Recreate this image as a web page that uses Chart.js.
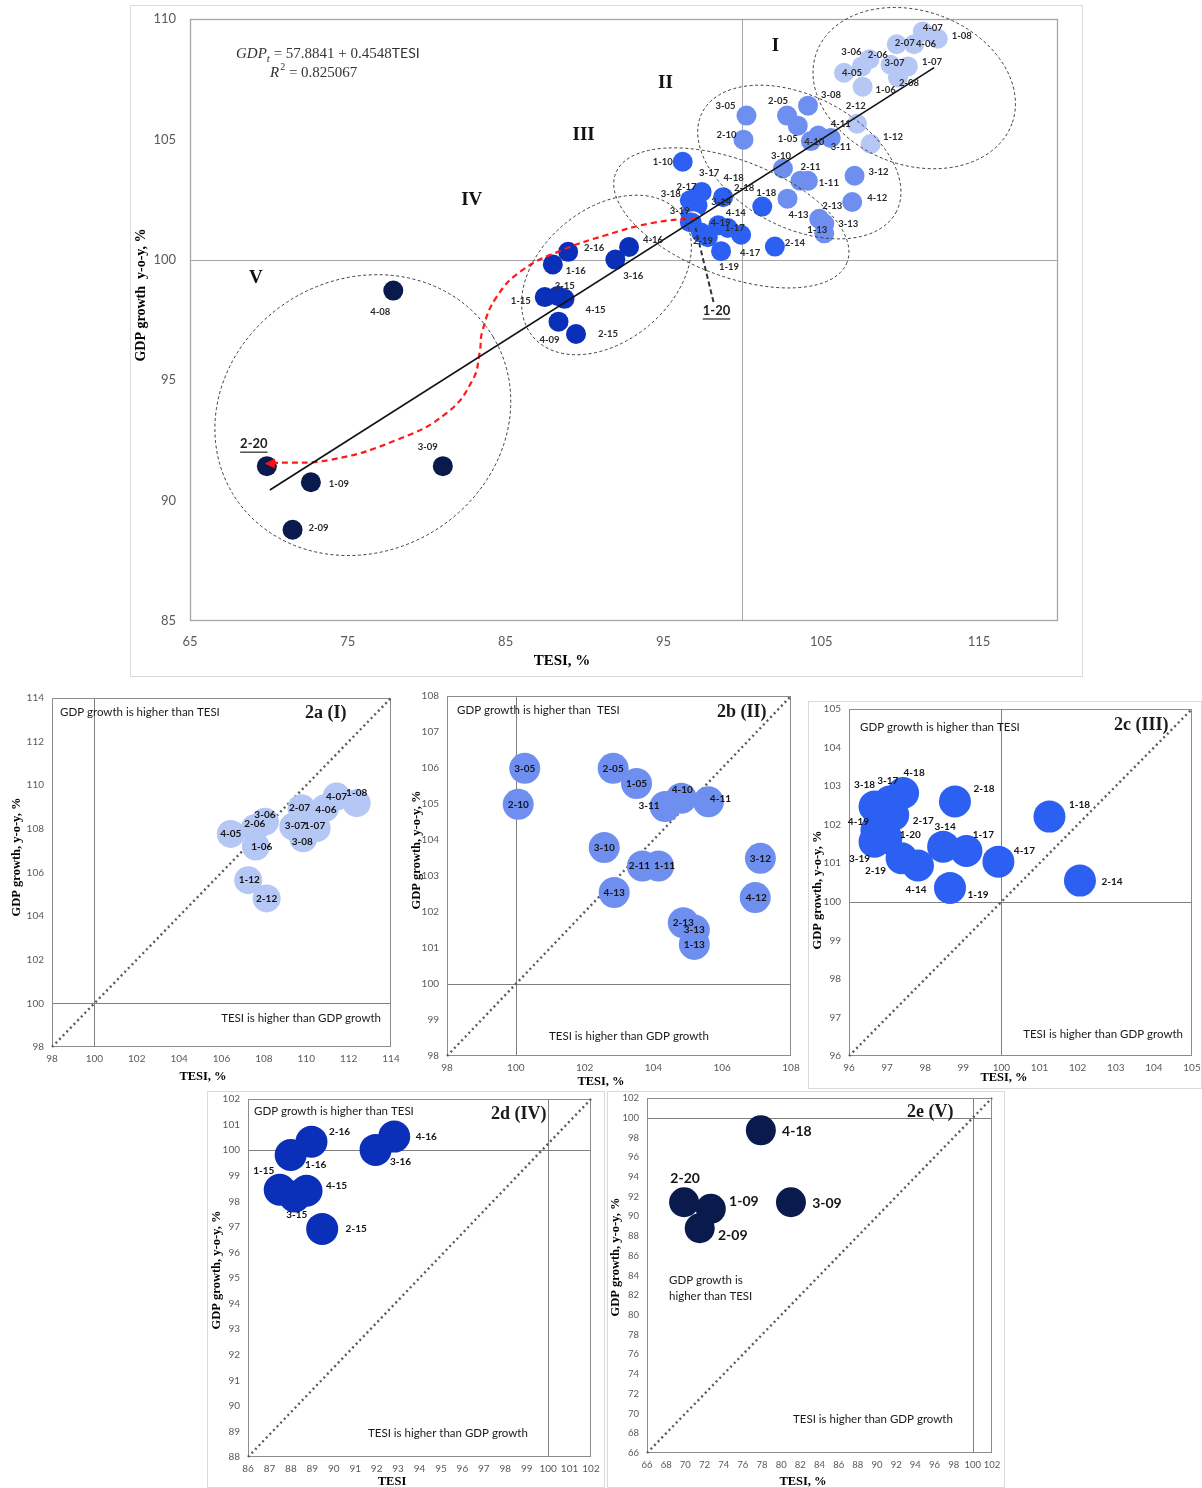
<!DOCTYPE html>
<html><head><meta charset="utf-8">
<script src="https://cdn.jsdelivr.net/npm/chart.js@4/dist/chart.umd.min.js"></script>
<style>
html,body{margin:0;padding:0;background:#fff;}
body{width:1202px;height:1488px;position:relative;overflow:hidden;}
.frame{position:absolute;border:1px solid #dadada;box-sizing:border-box;}
canvas{position:absolute;}
</style></head><body>
<div class="frame" style="left:130px;top:5px;width:953px;height:672px"></div>
<div class="frame" style="left:808px;top:701px;width:394px;height:388px"></div>
<div class="frame" style="left:207px;top:1091px;width:398px;height:397px"></div>
<div class="frame" style="left:607px;top:1091px;width:398px;height:397px"></div>
<script>
// ================= DATA =================
// Main chart (TESI, %  vs  GDP growth y-o-y, %)
const mainLabels = ['4-05','2-06','3-06','1-06','1-12','2-12','2-07','3-07','1-07','2-08','4-06','4-07','1-08',
  '3-05','2-10','2-05','1-05','3-08','3-11','4-10','4-11','3-10','2-11','1-11','4-13','3-12','4-12','2-13','3-13','1-13',
  '1-10','3-18','3-17','4-18','2-17','4-19','1-20','3-19','2-19','4-14','2-18','1-18','3-14','1-17','4-17','1-19','2-14',
  '1-15','3-15','4-15','4-09','2-15','1-16','2-16','3-16','4-16',
  '4-08','2-20','1-09','2-09','3-09'];
const mainTesi = [106.44,107.57,108.05,107.62,107.26,108.13,109.78,109.39,110.49,109.86,110.88,111.43,112.38,
  100.26,100.07,102.83,103.51,104.16,104.34,104.81,105.60,102.57,103.68,104.15,102.86,107.11,106.96,104.87,105.19,105.19,
  96.22,96.67,97.07,97.42,97.16,96.72,96.84,96.67,97.38,97.81,98.78,101.26,98.47,99.08,99.92,98.65,102.06,
  87.48,88.30,88.73,88.35,89.46,87.99,88.96,91.95,92.82,
  77.88,69.87,72.66,71.50,81.02];
const mainGdp = [107.77,108.03,108.33,107.19,105.65,104.81,108.95,108.10,108.03,107.57,108.95,109.48,109.18,
  105.99,104.99,105.99,105.57,106.40,104.93,105.16,105.06,103.79,103.28,103.28,102.54,103.49,102.40,101.70,101.50,101.10,
  104.07,102.47,102.60,102.82,102.25,101.86,101.57,101.56,101.13,100.94,102.60,102.21,101.43,101.32,101.04,100.36,100.55,
  98.45,98.50,98.38,97.43,96.92,99.81,100.33,100.01,100.53,
  98.72,91.43,90.76,88.79,91.43];
const mainGroup = ['I','I','I','I','I','I','I','I','I','I','I','I','I',
  'II','II','II','II','II','II','II','II','II','II','II','II','II','II','II','II','II',
  'III','III','III','III','III','III','III','III','III','III','III','III','III','III','III','III','III',
  'IV','IV','IV','IV','IV','IV','IV','IV','IV',
  'V','V','V','V','V'];
const trendTesi = [70.06, 112.15];
const trendGdp = [90.44, 107.98];
const pathTesi = [97.09,94.30,91.39,88.61,86.08,84.43,83.54,83.35,82.91,81.27,78.10,73.86,70.25];
const pathGdp  = [101.74,101.53,101.03,100.41,99.58,98.46,97.08,96.13,95.01,93.64,92.52,91.69,91.56];
const mainXTicks = [65,75,85,95,105,115];
const mainYTicks = [85,90,95,100,105,110];

// 2a (I)
const aLabels = ['4-05','2-06','3-06','1-06','1-12','2-12','2-07','3-07','1-07','3-08','4-06','4-07','1-08'];
const aTesi = [106.44,107.57,108.05,107.62,107.26,108.13,109.78,109.39,110.49,109.86,110.88,111.43,112.38];
const aGdp  = [107.77,108.03,108.33,107.19,105.65,104.81,108.95,108.10,108.03,107.57,108.95,109.48,109.18];
const aXTicks = [98,100,102,104,106,108,110,112,114];
const aYTicks = [98,100,102,104,106,108,110,112,114];
// 2b (II)
const bLabels = ['3-05','2-10','2-05','1-05','3-11','4-10','4-11','3-10','2-11','1-11','4-13','3-12','4-12','2-13','3-13','1-13'];
const bTesi = [100.26,100.07,102.83,103.51,104.34,104.81,105.60,102.57,103.68,104.15,102.86,107.11,106.96,104.87,105.19,105.19];
const bGdp  = [105.99,104.99,105.99,105.57,104.93,105.16,105.06,103.79,103.28,103.28,102.54,103.49,102.40,101.70,101.50,101.10];
const bXTicks = [98,100,102,104,106,108];
const bYTicks = [98,99,100,101,102,103,104,105,106,107,108];
// 2c (III)
const cLabels = ['3-18','3-17','4-18','2-17','4-19','1-20','3-19','2-19','4-14','2-18','1-18','3-14','1-17','4-17','1-19','2-14'];
const cTesi = [96.67,97.07,97.42,97.16,96.72,96.98,96.67,97.38,97.81,98.78,101.26,98.47,99.08,99.92,98.65,102.06];
const cGdp  = [102.47,102.60,102.82,102.25,101.86,101.65,101.56,101.13,100.94,102.60,102.21,101.43,101.32,101.04,100.36,100.55];
const cXTicks = [96,97,98,99,100,101,102,103,104,105];
const cYTicks = [96,97,98,99,100,101,102,103,104,105];
// 2d (IV)
const dLabels = ['2-16','1-16','4-16','3-16','1-15','3-15','4-15','2-15'];
const dTesi = [88.96,87.99,92.82,91.95,87.48,88.18,88.73,89.46];
const dGdp  = [100.33,99.81,100.53,100.01,98.45,98.19,98.41,96.92];
const dXTicks = [86,87,88,89,90,91,92,93,94,95,96,97,98,99,100,101,102];
const dYTicks = [88,89,90,91,92,93,94,95,96,97,98,99,100,101,102];
// 2e (V)
const eLabels = ['4-18','2-20','1-09','2-09','3-09'];
const eTesi = [77.88,69.87,72.66,71.50,81.02];
const eGdp  = [98.72,91.43,90.76,88.79,91.43];
const eXTicks = [66,68,70,72,74,76,78,80,82,84,86,88,90,92,94,96,98,100,102];
const eYTicks = [66,68,70,72,74,76,78,80,82,84,86,88,90,92,94,96,98,100,102];

// ================= STYLE / LAYOUT =================
const groupColor = {I:'#b5c7f4', II:'#6f8ff0', III:'#2c60f2', IV:'#0a2fb8', V:'#0b1a4c'};
const mainOffsets = {'4-05':[8,0],'2-06':[16,-12],'3-06':[-18,-7],'1-06':[23,3],'1-12':[36,13],'2-12':[-15,-38],'2-07':[8,-1],'3-07':[4,-2],'1-07':[24,-5],'2-08':[11,5],'4-06':[12,0],'4-07':[10,-4],'1-08':[24,-3],
 '3-05':[-21,-10],'2-10':[-17,-5],'2-05':[-9,-15],'1-05':[-10,13],'3-08':[23,-11],'3-11':[30,6],'4-10':[-4,6],'4-11':[10,-14],'3-10':[-2,-13],'2-11':[10,-14],'1-11':[21,2],'4-13':[11,16],'3-12':[24,-4],'4-12':[25,-4],'2-13':[13,-13],'3-13':[24,0],'1-13':[-7,-3],
 '1-10':[-20,0],'3-18':[-19,-6],'3-17':[13,-24],'4-18':[32,-14],'2-17':[-11,-19],'4-19':[30,8],'3-19':[-10,-11],'2-19':[2,8],'4-14':[28,-24],'2-18':[21,-9],'1-18':[4,-14],'3-14':[3,-23],'1-17':[7,0],'4-17':[9,18],'1-19':[8,16],'2-14':[20,-4],
 '1-15':[-24,4],'3-15':[7,-10],'4-15':[31,11],'4-09':[-9,18],'2-15':[32,0],'1-16':[23,7],'2-16':[26,-4],'3-16':[18,16],'4-16':[24,-7],
 '4-08':[-13,21],'1-09':[28,2],'2-09':[26,-2],'3-09':[-15,-19]};
const mainSpecial = {'1-20':{off:[24,89],lead:[[21,80],[3,6]]}, '2-20':{off:[-13,-22]}};
const mainEllipses = [
 {cx:110.89, cy:107.13, a:104, b:77, rot:20},
 {cx:103.61, cy:104.06, a:109, b:66, rot:27},
 {cx:99.30, cy:101.74, a:124, b:58, rot:21},
 {cx:91.39, cy:99.37, a:96, b:66, rot:-40},
 {cx:75.95, cy:93.55, a:152, b:136, rot:-31}];
const romans = [{t:'I',x:102.09,y:108.88},{t:'II',x:95.13,y:107.34},{t:'III',x:89.94,y:105.18},{t:'IV',x:82.85,y:102.48},{t:'V',x:69.18,y:99.24}];

const aOff = {'4-05':[0,0],'2-06':[0,-4],'3-06':[0,-7],'1-06':[6,0],'1-12':[1,0],'2-12':[0,0],'2-07':[-2,0],'3-07':[2,-1],'1-07':[-2,-2],'3-08':[-1,4],'4-06':[1,2],'4-07':[0,0],'1-08':[0,-10]};
const bOff = {'3-11':[-16,-1],'4-10':[1,-8],'4-11':[12,-3],'2-11':[-3,0],'1-11':[6,0],'4-12':[1,0]};
const cOff = {'3-18':[-10,-22],'3-17':[-2,-21],'4-18':[11,-20],'2-18':[29,-13],'1-18':[30,-12],'4-19':[-18,-8],'2-17':[30,6],'3-14':[2,-20],'1-17':[17,-16],'1-20':[24,-3],'4-17':[26,-11],'3-19':[-15,17],'2-19':[-26,13],'4-14':[-2,24],'1-19':[28,7],'2-14':[32,1]};
const dOff = {'2-16':[28,-10],'1-16':[25,10],'4-16':[32,0],'3-16':[25,12],'1-15':[-16,-19],'3-15':[2,18],'4-15':[30,-5],'2-15':[34,0]};
const eOff = {'4-18':[36,1],'2-20':[1,-24],'1-09':[33,-7],'2-09':[33,7],'3-09':[36,1]};

Chart.defaults.animation = false;
Chart.defaults.responsive = false;
Chart.defaults.events = [];
Chart.defaults.plugins.legend.display = false;
Chart.defaults.plugins.tooltip.enabled = false;
Chart.defaults.font.family = 'Lato';

const SERIF = '"Liberation Serif", "DejaVu Serif", serif';

function addCanvas(id, b){
  const c = document.createElement('canvas');
  c.id = id; c.width = b.w; c.height = b.h;
  c.style.left = b.l+'px'; c.style.top = b.t+'px'; c.style.width = b.w+'px'; c.style.height = b.h+'px';
  document.body.appendChild(c); return c;
}
function axisOpt(min,max,ticks,isX,size,pad,fs){
  return {type:'linear',min,max,position:isX?'bottom':'left',
    afterBuildTicks:s=>{ s.ticks = ticks.map(v=>({value:v})); },
    afterFit:s=>{
      if(isX) s.height = size; else s.width = size;
      s.paddingTop = 0; s.paddingBottom = 0; s.paddingLeft = 0; s.paddingRight = 0;
    },
    grid:{display:false,drawTicks:false}, border:{display:false},
    ticks:{autoSkip:false,maxRotation:0,minRotation:0,padding:pad,color:'#595959',font:{family:'Lato',size:fs}},
    title:{display:false}};
}

const decoPlugin = {
  id:'deco',
  beforeDatasetsDraw(chart,args,o){
    const {ctx, chartArea:a} = chart; const x = chart.scales.x, y = chart.scales.y;
    ctx.save();
    ctx.lineWidth = 1;
    ctx.strokeStyle = o.lineColor;
    const vx = Math.round(x.getPixelForValue(100))+0.5, hy = Math.round(y.getPixelForValue(100))+0.5;
    ctx.beginPath(); ctx.moveTo(vx,a.top); ctx.lineTo(vx,a.bottom); ctx.moveTo(a.left,hy); ctx.lineTo(a.right,hy); ctx.stroke();
    ctx.strokeStyle = o.frameColor; ctx.lineWidth = o.frameWidth || 1;
    ctx.strokeRect(Math.round(a.left)+0.5, Math.round(a.top)+0.5, Math.round(a.width)-1, Math.round(a.height)-1);
    if (o.diag){
      ctx.setLineDash([2,3.2]); ctx.lineWidth = 2.4; ctx.strokeStyle = '#5a5a5a';
      ctx.beginPath(); ctx.moveTo(a.left,a.bottom); ctx.lineTo(a.right,a.top); ctx.stroke();
    }
    ctx.restore();
  },
  afterDraw(chart,args,o){
    const {ctx, chartArea:a} = chart;
    ctx.save();
    (o.notes||[]).forEach(n=>{
      ctx.font = n.font; ctx.fillStyle = n.color || '#1a1a1a';
      ctx.textAlign = n.align || 'left'; ctx.textBaseline = 'middle';
      ctx.fillText(n.t, a.left+n.x, a.top+n.y);
    });
    (o.titles||[]).forEach(n=>{
      ctx.save();
      ctx.font = n.font; ctx.fillStyle = '#000'; ctx.textAlign = 'center'; ctx.textBaseline = 'middle';
      ctx.translate(n.x, n.y); if (n.rot) ctx.rotate(-Math.PI/2);
      ctx.fillText(n.t, 0, 0);
      ctx.restore();
    });
    ctx.restore();
  }
};

const labelPlugin = {
  id:'ptLabels',
  afterDatasetsDraw(chart,args,o){
    if (!o.labels) return;
    const {ctx} = chart; const meta = chart.getDatasetMeta(o.dataset);
    ctx.save();
    ctx.font = o.font; ctx.fillStyle = o.color; ctx.textAlign = 'center'; ctx.textBaseline = 'middle';
    o.labels.forEach((t,i)=>{
      if (o.skip && o.skip[t]) return;
      const el = meta.data[i]; const off = o.offsets[t] || [0,0];
      ctx.fillText(t, el.x+off[0], el.y+off[1]);
    });
    ctx.restore();
  }
};

const mainExtra = {
  id:'mainExtra',
  afterDatasetsDraw(chart){
    const {ctx, chartArea:a} = chart; const x = chart.scales.x, y = chart.scales.y;
    ctx.save();
    ctx.strokeStyle = '#3a3a3a'; ctx.lineWidth = 1; ctx.setLineDash([3,2.5]);
    mainEllipses.forEach(e=>{
      ctx.beginPath();
      ctx.ellipse(x.getPixelForValue(e.cx), y.getPixelForValue(e.cy), e.a, e.b, e.rot*Math.PI/180, 0, 2*Math.PI);
      ctx.stroke();
    });
    ctx.setLineDash([]);
    const n = pathTesi.length-1;
    const ex = x.getPixelForValue(pathTesi[n]), ey = y.getPixelForValue(pathGdp[n]);
    ctx.fillStyle = '#ff1010';
    ctx.beginPath(); ctx.moveTo(ex-8, ey+0.5); ctx.lineTo(ex+2, ey-4.5); ctx.lineTo(ex+2, ey+5.5); ctx.closePath(); ctx.fill();
    ctx.fillStyle = '#111'; ctx.font = 'bold 19px '+SERIF; ctx.textAlign = 'center'; ctx.textBaseline = 'middle';
    romans.forEach(r=> ctx.fillText(r.t, x.getPixelForValue(r.x), y.getPixelForValue(r.y)));
    ctx.textAlign = 'left'; ctx.textBaseline = 'alphabetic'; ctx.fillStyle = '#333';
    let px = a.left+46, py = a.top+39;
    ctx.font = 'italic 15px '+SERIF; ctx.fillText('GDP', px, py); px += ctx.measureText('GDP').width;
    ctx.font = 'italic 11px '+SERIF; ctx.fillText('t', px, py+4); px += ctx.measureText('t').width;
    ctx.font = '15px '+SERIF; ctx.fillText(' = 57.8841 + 0.4548', px, py); px += ctx.measureText(' = 57.8841 + 0.4548').width;
    ctx.font = '14px Lato'; ctx.fillText('TESI', px, py);
    px = a.left+80; py = a.top+58;
    ctx.font = 'italic 15px '+SERIF; ctx.fillText('R', px, py); px += ctx.measureText('R').width+1;
    ctx.font = '10px '+SERIF; ctx.fillText('2', px, py-7); px += ctx.measureText('2').width;
    ctx.font = '15px '+SERIF; ctx.fillText(' = 0.825067', px, py);
    const meta = chart.getDatasetMeta(2);
    ctx.font = 'bold 13px Lato'; ctx.fillStyle = '#222'; ctx.textAlign = 'center'; ctx.textBaseline = 'middle';
    Object.keys(mainSpecial).forEach(k=>{
      const i = mainLabels.indexOf(k); const el = meta.data[i]; const s = mainSpecial[k];
      const lx = el.x+s.off[0], ly = el.y+s.off[1];
      ctx.fillText(k, lx, ly);
      const w = ctx.measureText(k).width;
      ctx.strokeStyle = '#222'; ctx.lineWidth = 1.2;
      ctx.beginPath(); ctx.moveTo(lx-w/2, ly+8); ctx.lineTo(lx+w/2, ly+8); ctx.stroke();
      if (s.lead){
        ctx.setLineDash([5,3]); ctx.lineWidth = 2; ctx.strokeStyle = '#333';
        ctx.beginPath(); ctx.moveTo(el.x+s.lead[0][0], el.y+s.lead[0][1]); ctx.lineTo(el.x+s.lead[1][0], el.y+s.lead[1][1]); ctx.stroke();
        ctx.setLineDash([]);
      }
    });
    ctx.restore();
  }
};

// ================= MAIN CHART =================
(function(){
  const box = {l:130,t:5,w:952,h:671};
  const cv = addCanvas('cMain', box);
  new Chart(cv, {
    type:'scatter',
    data:{datasets:[
      {data: trendTesi.map((v,i)=>({x:v,y:trendGdp[i]})), showLine:true, pointRadius:0, borderColor:'#111', borderWidth:1.6, fill:false},
      {data: pathTesi.map((v,i)=>({x:v,y:pathGdp[i]})), showLine:true, tension:0.45, pointRadius:0, borderColor:'#ff1a1a', borderWidth:2.2, borderDash:[6,4], fill:false},
      {data: mainTesi.map((v,i)=>({x:v,y:mainGdp[i]})), pointRadius:10, pointHoverRadius:10,
       backgroundColor: mainGroup.map(g=>groupColor[g]),
       borderColor: mainLabels.map(l=> l==='1-20' ? '#ffffff' : 'rgba(0,0,0,0)'),
       borderWidth: mainLabels.map(l=> l==='1-20' ? 1.6 : 0)}
    ]},
    options:{
      layout:{autoPadding:false, padding:{top:14,right:24,left:0,bottom:0}},
      scales:{
        x: axisOpt(65,120,mainXTicks,true,55,13,13),
        y: axisOpt(85,110,mainYTicks,false,60,14,13)
      },
      plugins:{
        deco:{lineColor:'#a6a6a6', frameColor:'#a6a6a6', frameWidth:1.3, diag:false,
          titles:[{t:'TESI, %', x:432, y:656, font:'bold 15px '+SERIF},
                  {t:'GDP growth  y-o-y, %', x:11, y:290, font:'bold 14px '+SERIF, rot:true}]},
        ptLabels:{dataset:2, labels:mainLabels, offsets:mainOffsets, font:'bold 9.5px Lato', color:'#2a2a2a', skip:{'1-20':1,'2-20':1}}
      }
    },
    plugins:[decoPlugin, mainExtra, labelPlugin]
  });
})();

// ================= SUB CHARTS =================
function subChart(id, box, area, labels, tesi, gdp, xr, yr, xt, yt, color, radius, lblFont, offsets, notes, titles, tickFs){
  const cv = addCanvas(id, box);
  return new Chart(cv, {
    type:'scatter',
    data:{datasets:[{data: tesi.map((v,i)=>({x:v,y:gdp[i]})), pointRadius:radius, pointHoverRadius:radius,
      backgroundColor:color, borderWidth:0}]},
    options:{
      layout:{autoPadding:false, padding:{top:area.t-box.t, right:box.l+box.w-area.r, left:0, bottom:0}},
      scales:{
        x: axisOpt(xr[0],xr[1],xt,true,box.t+box.h-area.b,6,tickFs||10),
        y: axisOpt(yr[0],yr[1],yt,false,area.l-box.l,8,tickFs||10)
      },
      plugins:{
        deco:{lineColor:'#808080', frameColor:'#8c8c8c', diag:true, notes, titles},
        ptLabels:{dataset:0, labels, offsets, font:lblFont, color:'#151515'}
      }
    },
    plugins:[decoPlugin, labelPlugin]
  });
}
const NOTE = '11.5px Lato';
const PANEL = 'bold 18px '+SERIF;
const TT = 'bold 12.5px '+SERIF;

subChart('c2a', {l:0,t:682,w:400,h:405}, {l:52,t:698,r:391,b:1047}, aLabels, aTesi, aGdp, [98,114],[98,114], aXTicks, aYTicks,
  groupColor.I, 14, 'bold 10px Lato', aOff,
  [{t:'GDP growth is higher than TESI', x:8, y:14, font:NOTE},
   {t:'2a (I)', x:253, y:15, font:PANEL},
   {t:'TESI is higher than GDP growth', x:329, y:320, font:NOTE, align:'right'}],
  [{t:'TESI, %', x:203, y:395, font:TT},{t:'GDP growth, y-o-y, %', x:17, y:175, font:TT, rot:true}]);

subChart('c2b', {l:405,t:682,w:400,h:410}, {l:447,t:696,r:791,b:1056}, bLabels, bTesi, bGdp, [98,108],[98,108], bXTicks, bYTicks,
  groupColor.II, 15.5, 'bold 10px Lato', bOff,
  [{t:'GDP growth is higher than  TESI', x:10, y:14, font:NOTE},
   {t:'2b (II)', x:270, y:16, font:PANEL},
   {t:'TESI is higher than GDP growth', x:102, y:340, font:NOTE}],
  [{t:'TESI, %', x:196, y:400, font:TT},{t:'GDP growth, y-o-y, %', x:11.5, y:168, font:TT, rot:true}]);

subChart('c2c', {l:808,t:701,w:394,h:388}, {l:849,t:709,r:1192,b:1056}, cLabels, cTesi, cGdp, [96,105],[96,105], cXTicks, cYTicks,
  groupColor.III, 16, 'bold 10px Lato', cOff,
  [{t:'GDP growth is higher than TESI', x:11, y:18, font:NOTE},
   {t:'2c (III)', x:265, y:16, font:PANEL},
   {t:'TESI is higher than GDP growth', x:334, y:325, font:NOTE, align:'right'}],
  [{t:'TESI, %', x:196, y:377, font:TT},{t:'GDP growth, y-o-y, %', x:10, y:189, font:TT, rot:true}]);

subChart('c2d', {l:207,t:1091,w:398,h:397}, {l:248,t:1099,r:591,b:1457}, dLabels, dTesi, dGdp, [86,102],[88,102], dXTicks, dYTicks,
  groupColor.IV, 16, 'bold 10px Lato', dOff,
  [{t:'GDP growth is higher than TESI', x:6, y:12, font:NOTE},
   {t:'2d (IV)', x:243, y:15, font:PANEL},
   {t:'TESI is higher than GDP growth', x:120, y:334, font:NOTE}],
  [{t:'TESI', x:185, y:391, font:TT},{t:'GDP growth, y-o-y, %', x:10, y:179, font:TT, rot:true}]);

subChart('c2e', {l:607,t:1091,w:398,h:397}, {l:647,t:1098,r:992,b:1453}, eLabels, eTesi, eGdp, [66,102],[66,102], eXTicks, eYTicks,
  groupColor.V, 15, 'bold 14px Lato', eOff,
  [{t:'2e (V)', x:260, y:14, font:PANEL},
   {t:'GDP growth is', x:22, y:182, font:NOTE},
   {t:'higher than TESI', x:22, y:198, font:NOTE},
   {t:'TESI is higher than GDP growth', x:146, y:321, font:NOTE}],
  [{t:'TESI, %', x:196, y:391, font:TT},{t:'GDP growth, y-o-y, %', x:9, y:166, font:TT, rot:true}], 9.5);
</script>
</body></html>
